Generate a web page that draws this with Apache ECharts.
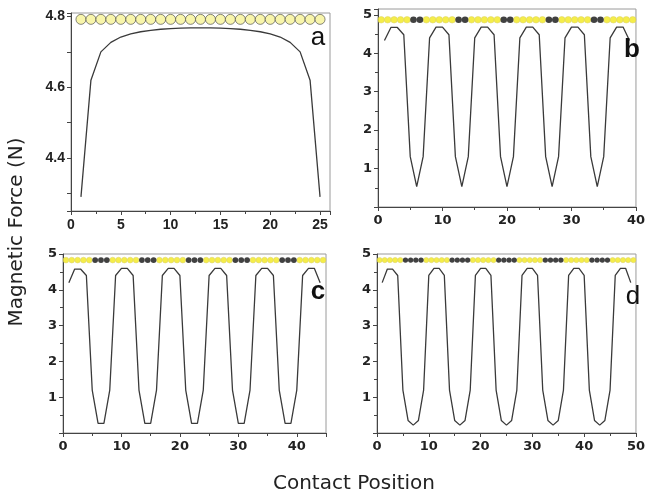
<!DOCTYPE html>
<html><head><meta charset="utf-8">
<script src="https://cdn.jsdelivr.net/npm/echarts@6/dist/echarts.min.js"></script>
<style>html,body{margin:0;padding:0;background:#fff}#c{width:648px;height:498px}</style>
</head><body><div id="c"></div>
<script>
// ---- data ----
const posA = [1,2,3,4,5,6,7,8,9,10,11,12,13,14,15,16,17,18,19,20,21,22,23,24,25];
const forceA = [4.29,4.62,4.70,4.727,4.742,4.751,4.757,4.761,4.764,4.766,4.767,4.768,4.768,4.768,4.767,4.766,4.764,4.761,4.757,4.751,4.742,4.727,4.70,4.62,4.29];

const posB = [1,2,3,4,5,6,7,8,9,10,11,12,13,14,15,16,17,18,19,20,21,22,23,24,25,26,27,28,29,30,31,32,33,34,35,36,37,38,39];
const forceB = [4.33,4.67,4.67,4.48,1.31,0.53,1.31,
                4.40,4.68,4.68,4.48,1.31,0.53,1.31,
                4.40,4.68,4.68,4.48,1.31,0.53,1.31,
                4.40,4.68,4.68,4.48,1.31,0.53,1.31,
                4.40,4.68,4.68,4.48,1.31,0.53,1.31,
                4.40,4.68,4.68,4.33];

const posC = [1,2,3,4,5,6,7,8,9,10,11,12,13,14,15,16,17,18,19,20,21,22,23,24,25,26,27,28,29,30,31,32,33,34,35,36,37,38,39,40,41,42,43,44];
const forceC = [4.20,4.58,4.58,4.40,1.20,0.27,0.27,1.20,
                4.40,4.60,4.60,4.40,1.20,0.27,0.27,1.20,
                4.40,4.60,4.60,4.40,1.20,0.27,0.27,1.20,
                4.40,4.60,4.60,4.40,1.20,0.27,0.27,1.20,
                4.40,4.60,4.60,4.40,1.20,0.27,0.27,1.20,
                4.40,4.60,4.60,4.20];

const posD = [1,2,3,4,5,6,7,8,9,10,11,12,13,14,15,16,17,18,19,20,21,22,23,24,25,26,27,28,29,30,31,32,33,34,35,36,37,38,39,40,41,42,43,44,45,46,47,48,49];
const forceD = [4.20,4.58,4.58,4.40,1.20,0.35,0.22,0.35,1.20,
                4.40,4.60,4.60,4.40,1.20,0.35,0.22,0.35,1.20,
                4.40,4.60,4.60,4.40,1.20,0.35,0.22,0.35,1.20,
                4.40,4.60,4.60,4.40,1.20,0.35,0.22,0.35,1.20,
                4.40,4.60,4.60,4.40,1.20,0.35,0.22,0.35,1.20,
                4.40,4.60,4.60,4.20];

// bead rows: Y = yellow bead, K = black bead
const beadsA = 'YYYYYYYYYYYYYYYYYYYYYYYYY';
const beadsB = 'YYYYYKKYYYYYKKYYYYYKKYYYYYKKYYYYYKKYYYYY';
const beadsC = 'YYYYYKKKYYYYYKKKYYYYYKKKYYYYYKKKYYYYYKKKYYYYY';
const beadsD = 'YYYYYKKKKYYYYYKKKKYYYYYKKKKYYYYYKKKKYYYYYKKKKYYYYY';
const beadLevel = [4.792, 4.87, 4.83, 4.83];
const beadStart = [1, 0.5, 0.5, 0.5];

const panelLetters = ['a','b','c','d'];
const xMax = [26, 40, 45, 50];
const xInterval = [5, 10, 10, 10];
const xLabelMax = [25, 40, 40, 50];
const yMin = [4.25, 0, 0, 0];
const yMax = [4.81, 5.15, 5, 5];
const yTitle = 'Magnetic Force (N)';
const xTitle = 'Contact Position';

// ---- chart ----
const grids = [
  {left:71, top:13, width:259, height:198},
  {left:378, top:9, width:264, height:198},
  {left:63, top:254, width:263, height:179},
  {left:377, top:254, width:264, height:179}
];
const panelPos = [posA,posB,posC,posD];
const panelForce = [forceA,forceB,forceC,forceD];
const panelBeads = [beadsA,beadsB,beadsC,beadsD];
const beadSize = [10, 6.6, 5.8, 5.3];
const fontA = {fontFamily:'Liberation Sans', fontWeight:'bold', fontSize:14, color:'#222'};
const fontB = {fontFamily:'DejaVu Sans', fontWeight:'bold', fontSize:13, color:'#222'};

const near = (v, step) => Math.abs(v/step - Math.round(v/step)) < 1e-6;

const xAxes = [], yAxes = [], series = [];
for (let i = 0; i < 4; i++) {
  const f = i === 0 ? fontA : fontB;
  xAxes.push({
    type:'value', gridIndex:i, min:0, max:xMax[i], interval:xInterval[i],
    axisLine:{show:true, onZero:false, lineStyle:{color:'#444', width:1}},
    axisTick:{show:true, inside:false, length:4, lineStyle:{color:'#444'}},
    minorTick:{show:true, splitNumber:2, length:3, lineStyle:{color:'#444'}},
    splitLine:{show:false},
    axisLabel:Object.assign({margin:7, showMaxLabel:true,
      formatter:(v)=> (near(v, xInterval[i]) && v <= xLabelMax[i] + 1e-9) ? String(Math.round(v)) : ''}, f)
  });
  const yAx = {
    type:'value', gridIndex:i, min:yMin[i], max:yMax[i],
    axisLine:{show:true, onZero:false, lineStyle:{color:'#444', width:1}},
    axisTick:{show:true, inside:false, length:4, lineStyle:{color:'#444'}},
    splitLine:{show:false},
    axisLabel:Object.assign({margin:6}, f)
  };
  if (i === 0) {
    yAx.axisLabel.formatter = (v)=> (near(v, 0.2) && v > 4.3 && v < 4.805) ? v.toFixed(1) : '';
  } else {
    yAx.interval = 1;
    yAx.minorTick = {show:true, splitNumber:2, length:3, lineStyle:{color:'#444'}};
    yAx.axisLabel.formatter = (v)=> (near(v, 1) && v > 0.5 && v < 5.01) ? String(Math.round(v)) : '';
  }
  yAxes.push(yAx);

  series.push({
    type:'line', xAxisIndex:i, yAxisIndex:i, showSymbol:false, symbol:'none',
    lineStyle:{color:'#3a3a3a', width:1.3}, z:3,
    data: panelPos[i].map((x, k) => [x, panelForce[i][k]])
  });
  const yellow = [], black = [];
  panelBeads[i].split('').forEach((c, k) => {
    const pt = [beadStart[i] + k, beadLevel[i]];
    (c === 'K' ? black : yellow).push(pt);
  });
  const yStyle = i === 0 ? {color:'#f6f296', borderColor:'#444', borderWidth:0.8}
                         : {color:'#f3e81c', borderColor:'#d6cf6a', borderWidth:0.6};
  series.push({type:'scatter', xAxisIndex:i, yAxisIndex:i, symbol:'circle', symbolSize:beadSize[i],
    itemStyle:yStyle, data:yellow, z:4, silent:true});
  if (black.length) series.push({type:'scatter', xAxisIndex:i, yAxisIndex:i, symbol:'circle', symbolSize:beadSize[i],
    itemStyle:{color:'#111'}, data:black, z:5, silent:true});
}

const letterPos = [[318,38,'normal'],[632,50,'bold'],[318,292,'bold'],[633,297,'normal']];
const graphic = letterPos.map((p, i) => ({
  type:'text', x:p[0], y:p[1], z:10,
  style:{text:panelLetters[i], fontFamily:'Liberation Sans', fontSize:26, fontWeight:p[2], fill:'#111',
    textAlign:'center', textVerticalAlign:'middle'}
}));
graphic.push({type:'text', x:17, y:232, rotation:Math.PI/2, z:10,
  style:{text:yTitle, fontFamily:'DejaVu Sans', fontSize:20, fill:'#222', textAlign:'center', textVerticalAlign:'middle'}});
graphic.push({type:'text', x:354, y:484, z:10,
  style:{text:xTitle, fontFamily:'DejaVu Sans', fontSize:20, fill:'#222', textAlign:'center', textVerticalAlign:'middle'}});

const chart = echarts.init(document.getElementById('c'), null, {renderer:'canvas'});
chart.setOption({
  animation:false,
  backgroundColor:'#fff',
  grid: grids.map(g => Object.assign({show:true, borderColor:'#9a9a9a', borderWidth:1, backgroundColor:'transparent'}, g)),
  xAxis:xAxes, yAxis:yAxes, series, graphic
});
</script></body></html>
